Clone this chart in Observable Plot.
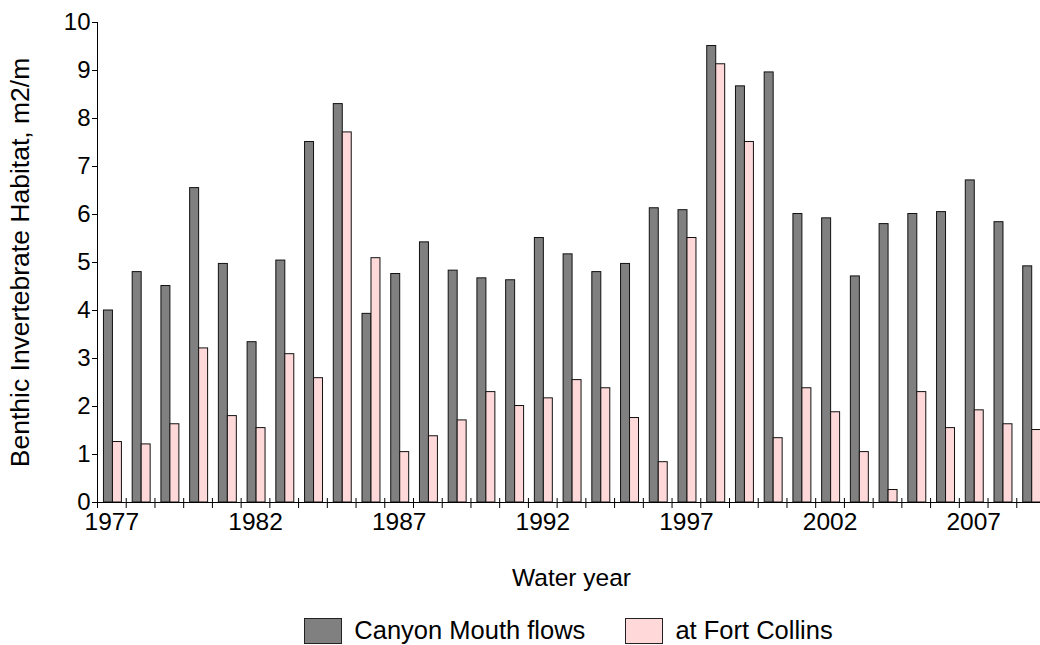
<!DOCTYPE html>
<html>
<head>
<meta charset="utf-8">
<script src="https://cdn.jsdelivr.net/npm/d3@7"></script>
<script src="https://cdn.jsdelivr.net/npm/@observablehq/plot@0.6"></script>
<style>
  html, body { margin: 0; padding: 0; background: #fff; overflow: hidden; width: 1040px; height: 645px; }
  body { font-family: "Liberation Sans", Arial, sans-serif; }
  #chart svg { max-width: none !important; display: block; }
  #legend { margin-left: 97px; width: 943px; margin-top: 16px; display: flex; justify-content: center; align-items: center; font-size: 25.5px; color: #000; }
  .item { display: flex; align-items: center; }
  .sw { width: 36px; height: 24px; border: 1px solid #222; margin-right: 12px; }
  .sw.dark { background: #808080; }
  .sw.pink { background: #ffd9d9; }
</style>
</head>
<body>
<div id="chart"></div>
<div id="legend">
  <div class="item"><div class="sw dark"></div><span>Canyon Mouth flows</span></div>
  <div class="item" style="margin-left:40px"><div class="sw pink"></div><span>at Fort Collins</span></div>
</div>
<script>
const years = [1977,1978,1979,1980,1981,1982,1983,1984,1985,1986,1987,1988,1989,1990,1991,1992,1993,1994,1995,1996,1997,1998,1999,2000,2001,2002,2003,2004,2005,2006,2007,2008,2009];
const canyonMouth = [4.00,4.80,4.51,6.55,4.97,3.34,5.04,7.51,8.30,3.93,4.76,5.42,4.83,4.67,4.63,5.51,5.17,4.80,4.97,6.13,6.09,9.51,8.67,8.96,6.01,5.92,4.71,5.80,6.01,6.05,6.71,5.84,4.92];
const fortCollins = [1.26,1.21,1.63,3.21,1.80,1.55,3.09,2.59,7.71,5.09,1.05,1.38,1.71,2.30,2.01,2.17,2.55,2.38,1.76,0.84,5.51,9.13,7.51,1.34,2.38,1.88,1.05,0.26,2.30,1.55,1.92,1.63,1.51];
const seriesNames = ["Canyon Mouth flows", "at Fort Collins"];
const seriesFills = ["#808080", "#ffd9d9"];
const yTicks = [0,1,2,3,4,5,6,7,8,9,10];
const labelYears = [1977,1982,1987,1992,1997,2002,2007];

const table = [];
years.forEach((yr, i) => {
  table.push({year: yr, series: seriesNames[0], value: canyonMouth[i]});
  table.push({year: yr, series: seriesNames[1], value: fortCollins[i]});
});

const W = 1045, ML = 97, MR = 0;
const bandW = (W - ML - MR) / years.length;

const chart = Plot.plot({
  width: W,
  height: 600,
  marginLeft: ML,
  marginRight: MR,
  marginTop: 22,
  marginBottom: 98,
  style: {fontFamily: '"Liberation Sans", Arial, sans-serif', fontSize: "24px", color: "#000", background: "#fff", overflow: "visible", maxWidth: "none"},
  fx: {domain: years, padding: 0, round: false, axis: null},
  x: {domain: seriesNames, paddingInner: 0, paddingOuter: 0.6, align: 0.6, round: false, axis: null},
  y: {domain: [0, 10], axis: null},
  color: {domain: seriesNames, range: seriesFills},
  marks: [
    Plot.barY(table, {fx: "year", x: "series", y: "value", fill: "series", stroke: "#111", strokeWidth: 1}),
    Plot.ruleY([0], {stroke: "#000", strokeWidth: 1}),
    Plot.frame({anchor: "left", facetAnchor: "left", stroke: "#000"}),
    Plot.axisY({ticks: yTicks, tickSize: 5, tickPadding: 2, fontSize: 24, label: null}),
    Plot.axisY({ticks: [], fontSize: 26.5, label: "Benthic Invertebrate Habitat, m2/m", labelAnchor: "center", labelOffset: 87, labelArrow: "none"}),
    Plot.axisFx({anchor: "bottom", ticks: years, tickSize: 10, dy: -4, dx: -bandW / 2, tickFormat: () => "", label: null}),
    Plot.axisFx({anchor: "bottom", ticks: labelYears, tickSize: 0, tickPadding: 10, fontSize: 24.5, tickFormat: d => String(d), label: "Water year", labelAnchor: "center", labelOffset: 83, labelArrow: "none"})
  ]
});
document.getElementById("chart").appendChild(chart);
</script>
</body>
</html>
